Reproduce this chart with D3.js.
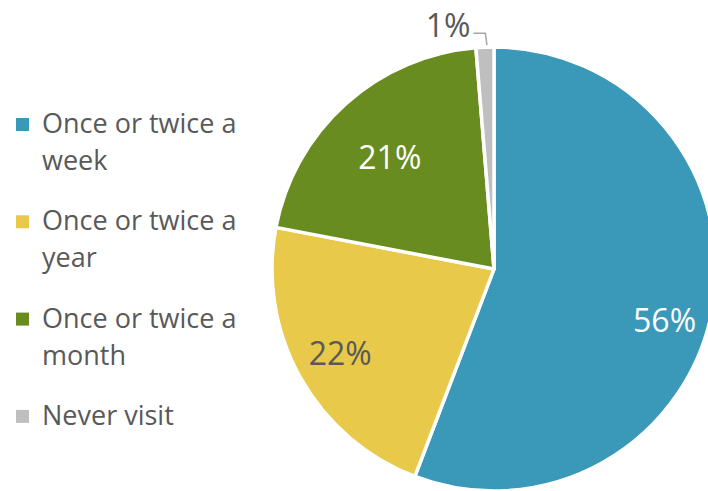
<!DOCTYPE html>
<html>
<head>
<meta charset="utf-8">
<script src="https://cdn.jsdelivr.net/npm/d3@7"></script>
<style>
  html, body { margin: 0; padding: 0; background: #fff; }
  svg { display: block; font-family: "Open Sans", "Noto Sans", sans-serif; }
</style>
</head>
<body>
<svg id="chart" width="708" height="491"></svg>
<script>
// ---- data ----
const categories = ["Once or twice a week", "Once or twice a year", "Once or twice a month", "Never visit"];
const legendLines = [["Once or twice a", "week"], ["Once or twice a", "year"], ["Once or twice a", "month"], ["Never visit"]];
const values = [55.8, 22.2, 20.7, 1.3];
const valueLabels = ["56%", "22%", "21%", "1%"];
const colors = ["#3a98b9", "#e9c94a", "#688c1f", "#bfbfbf"];
const labelColors = ["#ffffff", "#595959", "#ffffff", "#595959"];

// ---- layout ----
const W = 708, H = 491;
const cx = 494, cy = 269, R = 222;
const svg = d3.select("#chart");

const pie = d3.pie().sort(null).value(d => d).startAngle(0).endAngle(2 * Math.PI);
const arcs = pie(values);
const arc = d3.arc().innerRadius(0).outerRadius(R);

const g = svg.append("g").attr("transform", `translate(${cx},${cy})`);
g.selectAll("path.slice")
  .data(arcs)
  .join("path")
  .attr("class", "slice")
  .attr("d", arc)
  .attr("fill", (d, i) => colors[i])
  .attr("stroke", "#fff")
  .attr("stroke-width", 3.5)
  .attr("stroke-linejoin", "round");

// inside labels (first three), tuned radial placement
const labelRadius = [178, 175, 153];
const labelAngleShift = [0.108, 0.012, -0.017]; // radians
arcs.slice(0, 3).forEach((d, i) => {
  const a = (d.startAngle + d.endAngle) / 2 + labelAngleShift[i];
  const r = labelRadius[i];
  g.append("text")
    .attr("x", r * Math.sin(a))
    .attr("y", -r * Math.cos(a))
    .attr("text-anchor", "middle")
    .attr("dominant-baseline", "central")
    .attr("font-size", 32)
    .attr("fill", labelColors[i])
    .text(valueLabels[i]);
});

// outside label for the small slice with leader line
{
  const d = arcs[3];
  const a = (d.startAngle + d.endAngle) / 2;
  const p0 = [R * Math.sin(a) + 2, -R * Math.cos(a) - 2];
  const p1 = [(R + 14) * Math.sin(a) + 1, -(R + 14) * Math.cos(a)];
  const p2 = [p1[0] - 12, p1[1]];
  g.append("polyline")
    .attr("points", [p0, p1, p2].map(p => p.join(",")).join(" "))
    .attr("fill", "none")
    .attr("stroke", "#a6a6a6")
    .attr("stroke-width", 1.5);
  g.append("text")
    .attr("x", p2[0] - 3)
    .attr("y", p2[1] - 9)
    .attr("text-anchor", "end")
    .attr("dominant-baseline", "central")
    .attr("font-size", 32)
    .attr("fill", labelColors[3])
    .text(valueLabels[3]);
}

// legend
const legendX = 16, textX = 42, firstBaseline = 133, itemStep = 97.3, lineH = 37;
const leg = svg.append("g");
categories.forEach((c, i) => {
  const base = firstBaseline + i * itemStep;
  leg.append("rect")
    .attr("x", legendX).attr("y", base - 15)
    .attr("width", 13).attr("height", 13)
    .attr("fill", colors[i]);
  const t = leg.append("text")
    .attr("x", textX).attr("y", base)
    .attr("font-size", 27)
    .attr("fill", "#595959");
  legendLines[i].forEach((ln, j) => {
    t.append("tspan").attr("x", textX).attr("y", base + j * lineH).text(ln);
  });
});
</script>
</body>
</html>
